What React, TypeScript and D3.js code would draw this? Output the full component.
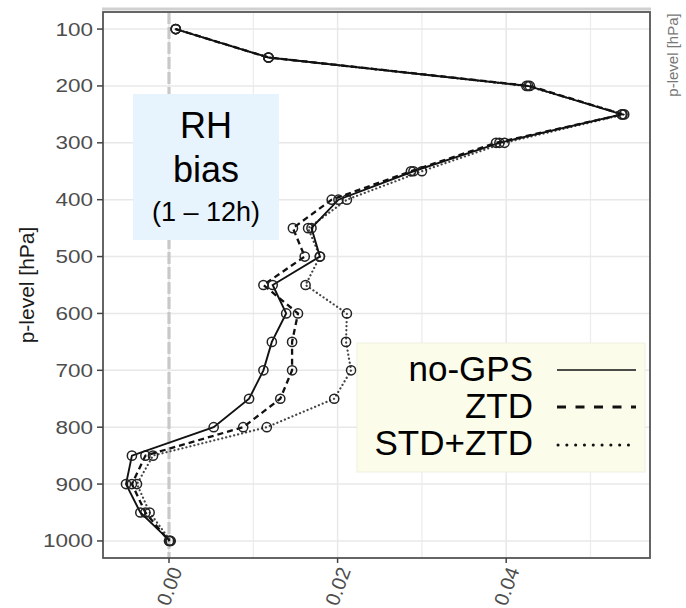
import React from "react";
import * as d3 from "d3";

const levels = [100, 150, 200, 250, 300, 350, 400, 450, 500, 550, 600, 650, 700, 750, 800, 850, 900, 950, 1000];
const noGPS = [0.0008, 0.0118, 0.0426, 0.0537, 0.0392, 0.029, 0.0201, 0.0169, 0.0179, 0.0123, 0.0139, 0.0122, 0.0112, 0.0095, 0.0053, -0.0044, -0.0051, -0.0034, 0.0001];
const ztd = [0.0008, 0.0118, 0.0428, 0.0538, 0.0388, 0.0287, 0.0193, 0.0147, 0.0161, 0.0112, 0.0153, 0.0146, 0.0146, 0.0132, 0.0088, -0.0028, -0.0044, -0.0028, 0.0];
const stdZtd = [0.0008, 0.0118, 0.0424, 0.054, 0.0398, 0.03, 0.0211, 0.0165, 0.0179, 0.0162, 0.0211, 0.021, 0.0216, 0.0196, 0.0116, -0.0019, -0.0038, -0.0023, 0.0002];
const yTicks = [100, 200, 300, 400, 500, 600, 700, 800, 900, 1000];
const xTicks = [0, 0.02, 0.04];
const xMinor = [0.01, 0.03, 0.05];
const seriesNames = ["no-GPS", "ZTD", "STD+ZTD"];

const W = 686, H = 608;
const L = 103, R = 650, T = 12, B = 558;

export default function App() {
  const x = d3.scaleLinear().domain([-0.00783, 0.05706]).range([L, R]);
  const y = d3.scaleLinear().domain([70, 1030]).range([T, B]);
  const line = d3.line<[number, number]>().x(d => x(d[0])).y(d => y(d[1]));
  const series = [
    { name: seriesNames[2], vals: stdZtd, stroke: "#444", width: 2.2, dash: "0.1,4", cap: "round" },
    { name: seriesNames[1], vals: ztd, stroke: "#111", width: 2.3, dash: "6,4", cap: "butt" },
    { name: seriesNames[0], vals: noGPS, stroke: "#111", width: 1.9, dash: undefined, cap: "butt" },
  ];
  const tickFont = "'Liberation Sans', Arial, sans-serif";
  return (
    <div style={{ position: "absolute", left: 0, top: 0 }}>
      <svg width={W} height={H} style={{ display: "block", background: "#fff" }}>
        {/* grid */}
        {xMinor.map(v => (
          <line key={"xm" + v} x1={x(v)} x2={x(v)} y1={T} y2={B} stroke="#ededed" strokeWidth={1.3} />
        ))}
        {xTicks.map(v => (
          <line key={"xg" + v} x1={x(v)} x2={x(v)} y1={T} y2={B} stroke="#e8e8e8" strokeWidth={1.5} />
        ))}
        {yTicks.map(v => (
          <line key={"yg" + v} x1={L} x2={R} y1={y(v)} y2={y(v)} stroke="#e8e8e8" strokeWidth={1.5} />
        ))}
        {/* zero line */}
        <line x1={x(0)} x2={x(0)} y1={T} y2={B} stroke="#c8c8c8" strokeWidth={3.2} strokeDasharray="12,3" />
        {/* annotation box */}
        <rect x={133} y={94} width={146} height={146} fill="#e8f4fd" />
        <g fontFamily={tickFont} fill="#000" textAnchor="middle">
          <text x={206} y={138} fontSize={36}>RH</text>
          <text x={206} y={182} fontSize={36}>bias</text>
          <text x={206} y={221} fontSize={27}>(1 – 12h)</text>
        </g>
        {/* series */}
        {series.map(s => {
          const pts: [number, number][] = s.vals.map((v, i) => [v, levels[i]]);
          return (
            <g key={s.name}>
              <path d={line(pts) || ""} fill="none" stroke={s.stroke} strokeWidth={s.width}
                strokeDasharray={s.dash} strokeLinecap={s.cap as any} />
              {pts.map((p, i) => (
                <circle key={i} cx={x(p[0])} cy={y(p[1])} r={4.6} fill="none" stroke="#222" strokeWidth={1.5} />
              ))}
            </g>
          );
        })}
        {/* legend */}
        <rect x={357} y={343} width={288} height={129} fill="#fcfcea" stroke="#f0f0e0" strokeWidth={1} />
        <g fontFamily={tickFont} fill="#000" textAnchor="end" fontSize={35}>
          <text x={533} y={381}>{seriesNames[0]}</text>
          <text x={533} y={418}>{seriesNames[1]}</text>
          <text x={533} y={455}>{seriesNames[2]}</text>
        </g>
        <line x1={557} x2={636} y1={370} y2={370} stroke="#111" strokeWidth={1.6} />
        <line x1={557} x2={636} y1={407} y2={407} stroke="#111" strokeWidth={3.2} strokeDasharray="9,9.5" />
        <line x1={558} x2={636} y1={445} y2={445} stroke="#111" strokeWidth={3} strokeDasharray="0.1,8.7" strokeLinecap="round" />
        {/* panel border */}
        <line x1={L - 1} x2={R + 1} y1={T - 3} y2={T - 3} stroke="#d0d0d0" strokeWidth={3} />
        <rect x={L} y={T} width={R - L} height={B - T} fill="none" stroke="#555" strokeWidth={1.8} />
        {/* y axis */}
        {yTicks.map(v => (
          <g key={"yt" + v}>
            <line x1={L - 6} x2={L} y1={y(v)} y2={y(v)} stroke="#444" strokeWidth={1.5} />
            <text transform={`translate(${L - 10},${y(v)}) scale(1.25,1)`} dy="0.36em" textAnchor="end"
              fontFamily={tickFont} fontSize={18} fill="#4d4d4d">{v}</text>
          </g>
        ))}
        {/* x axis */}
        {xTicks.map(v => (
          <g key={"xt" + v}>
            <line x1={x(v)} x2={x(v)} y1={B} y2={B + 5} stroke="#444" strokeWidth={1.5} />
            <text transform={`translate(${x(v) + 7},${B + 10}) rotate(-70)`} dy="0.35em" textAnchor="end"
              fontFamily={tickFont} fontSize={20} fill="#4d4d4d">{d3.format(".2f")(v)}</text>
          </g>
        ))}
        {/* axis title */}
        <text transform={`translate(34,${(T + B) / 2}) rotate(-90)`} textAnchor="middle"
          fontFamily={tickFont} fontSize={21} fill="#1a1a1a">p-level [hPa]</text>
        <text transform={`translate(678,55) rotate(-90)`} textAnchor="middle"
          fontFamily={tickFont} fontSize={15} fill="#777">p-level [hPa]</text>
      </svg>
    </div>
  );
}
